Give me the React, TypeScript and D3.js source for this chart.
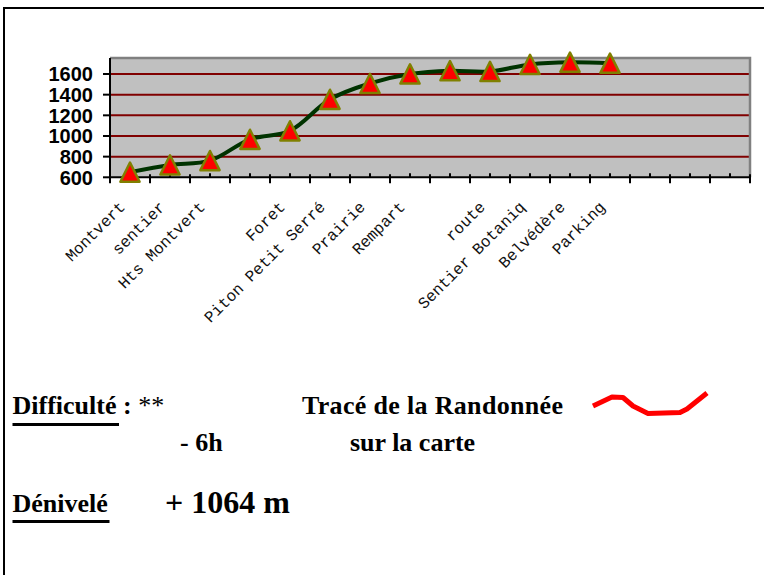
import { useEffect, useRef } from 'react';
import * as d3 from 'd3';

// stops along the hike (empty slots have no name on the axis)
const stops = [
  'Montvert', 'sentier', 'Hts Montvert', '', 'Foret', 'Piton Petit Serré',
  'Prairie', 'Rempart', '', 'route', 'Sentier Botaniq', 'Belvédère', 'Parking',
  '', '', '',
];
// altitude in metres, one per stop that was measured
const altitudes = [650, 720, 762, 968, 1050, 1355, 1509, 1600, 1632, 1625, 1693, 1714, 1704];
const yTicks = [600, 800, 1000, 1200, 1400, 1600];
const yDomain = [600, 1755];

// little red sketch of the route next to the caption
const traceSketch: [number, number][] = [
  [593, 406], [612, 397], [623, 397.5], [633, 406], [648, 413.5],
  [680, 412.5], [687, 409], [707, 393],
];

export default function App() {
  const ref = useRef<SVGSVGElement | null>(null);

  useEffect(() => {
    if (!ref.current) return;
    const svg = d3.select(ref.current);
    svg.selectAll('*').remove();

    const left = 110;
    const right = 750;
    const top = 58;
    const bottom = 177.3;

    const x = d3.scaleBand<number>().domain(d3.range(stops.length)).range([left, right]);
    const y = d3.scaleLinear().domain(yDomain).range([bottom, top]);
    const cx = (i: number) => (x(i) as number) + x.bandwidth() / 2;

    // page frame
    svg.append('line').attr('x1', 4).attr('x2', 764).attr('y1', 8).attr('y2', 8)
      .attr('stroke', '#000').attr('stroke-width', 2);
    svg.append('line').attr('x1', 4).attr('x2', 4).attr('y1', 7).attr('y2', 575)
      .attr('stroke', '#000').attr('stroke-width', 2);

    // plot area
    svg.append('rect').attr('x', left).attr('y', top)
      .attr('width', right - left).attr('height', bottom - top).attr('fill', '#c0c0c0');

    svg.append('g').selectAll('line').data(yTicks.filter((t) => t > yDomain[0])).join('line')
      .attr('x1', left).attr('x2', right)
      .attr('y1', (d) => y(d)).attr('y2', (d) => y(d))
      .attr('stroke', '#800000').attr('stroke-width', 2);

    svg.append('path')
      .attr('d', `M${left},${top}H${right}V${bottom}`)
      .attr('fill', 'none').attr('stroke', '#808080').attr('stroke-width', 2.5);

    // y axis
    svg.append('line').attr('x1', left).attr('x2', left).attr('y1', top).attr('y2', bottom + 1)
      .attr('stroke', '#000').attr('stroke-width', 2);
    const yAxis = svg.append('g');
    yAxis.selectAll('line').data(yTicks).join('line')
      .attr('x1', left - 7).attr('x2', left)
      .attr('y1', (d) => y(d)).attr('y2', (d) => y(d))
      .attr('stroke', '#000').attr('stroke-width', 2);
    yAxis.selectAll('text').data(yTicks).join('text')
      .attr('x', 93).attr('y', (d) => y(d)).attr('dy', '0.36em')
      .attr('text-anchor', 'end')
      .attr('font-family', 'Liberation Sans, Arial, sans-serif')
      .attr('font-weight', 'bold').attr('font-size', 20)
      .text((d) => String(d));

    // x axis
    svg.append('line').attr('x1', left - 1).attr('x2', right + 1).attr('y1', bottom).attr('y2', bottom)
      .attr('stroke', '#000').attr('stroke-width', 2);
    const bounds = d3.range(stops.length + 1).map((i) => left + i * x.bandwidth());
    svg.append('g').selectAll('line').data(bounds).join('line')
      .attr('x1', (d) => d).attr('x2', (d) => d)
      .attr('y1', bottom - 3).attr('y2', bottom + 6)
      .attr('stroke', '#000').attr('stroke-width', 2);
    svg.append('g').selectAll('line').data(d3.range(stops.length)).join('line')
      .attr('x1', (i) => cx(i)).attr('x2', (i) => cx(i))
      .attr('y1', bottom - 4).attr('y2', bottom)
      .attr('stroke', '#000').attr('stroke-width', 2);

    svg.append('g').selectAll('text').data(stops).join('text')
      .attr('transform', (_, i) => `translate(${cx(i) - 4},208) rotate(-45)`)
      .attr('text-anchor', 'end')
      .attr('font-family', 'Liberation Mono, Courier New, monospace')
      .attr('font-size', 16)
      .attr('fill', '#111')
      .text((d) => d);

    // elevation profile
    const line = d3.line<number>()
      .x((_, i) => cx(i))
      .y((d) => y(d))
      .curve(d3.curveCatmullRom.alpha(0.5));
    svg.append('path').attr('d', line(altitudes) as string)
      .attr('fill', 'none').attr('stroke', '#003300').attr('stroke-width', 4)
      .attr('stroke-linejoin', 'round');

    const h = 9.6;
    svg.append('g').selectAll('path').data(altitudes).join('path')
      .attr('transform', (d, i) => `translate(${cx(i)},${y(d)})`)
      .attr('d', `M0,${-h}L${h},${h}L${-h},${h}Z`)
      .attr('fill', '#ff0000').attr('stroke', '#808000').attr('stroke-width', 2.5)
      .attr('stroke-linejoin', 'round');

    // captions
    const serif = 'Liberation Serif, Times New Roman, serif';
    const cap = svg.append('g').attr('font-family', serif).attr('font-size', 26)
      .attr('font-weight', 'bold').attr('fill', '#000');

    const diff = cap.append('text').attr('x', 12.5).attr('y', 414);
    diff.append('tspan').text('Difficulté');
    diff.append('tspan').text(' : ');
    diff.append('tspan').attr('font-weight', 'normal').text('**');
    cap.append('rect').attr('x', 12.5).attr('y', 423).attr('width', 106.5).attr('height', 3).attr('fill', '#000');

    cap.append('text').attr('x', 180).attr('y', 451).text('- 6h');
    cap.append('text').attr('x', 302).attr('y', 414).attr('textLength', 261).text('Tracé de la Randonnée');
    cap.append('text').attr('x', 350).attr('y', 451).text('sur la carte');

    cap.append('text').attr('x', 12.5).attr('y', 512).text('Dénivelé');
    cap.append('rect').attr('x', 12.5).attr('y', 520).attr('width', 97).attr('height', 3).attr('fill', '#000');
    cap.append('text').attr('x', 165).attr('y', 513).attr('font-size', 32).text('+ 1064 m');

    svg.append('path').attr('d', d3.line()(traceSketch) as string)
      .attr('fill', 'none').attr('stroke', '#ff0000').attr('stroke-width', 5)
      .attr('stroke-linejoin', 'round');
  }, []);

  return (
    <svg
      ref={ref}
      width={764}
      height={575}
      viewBox="0 0 764 575"
      style={{ position: 'absolute', left: 0, top: 0, background: '#fff' }}
    />
  );
}
